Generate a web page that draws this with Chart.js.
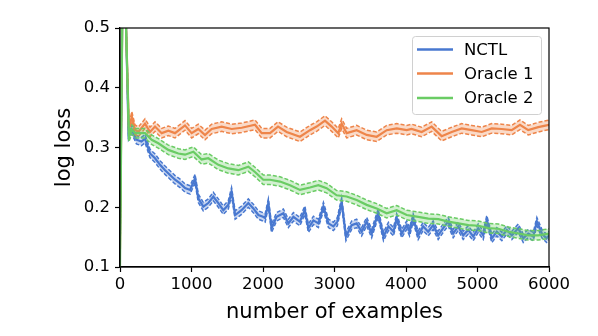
<!DOCTYPE html>
<html>
<head>
<meta charset="utf-8">
<script src="https://cdn.jsdelivr.net/npm/chart.js@4/dist/chart.umd.min.js"></script>
<style>
  html, body { margin: 0; padding: 0; background: #fff; }
</style>
</head>
<body>
<canvas id="lossChart" width="598" height="336"></canvas>
<script>
// values
const nctlX = [0, 40, 85, 120, 165, 230, 300, 350, 420, 490, 560, 630, 700, 770, 840, 910, 980, 1050, 1095, 1165,
  1235, 1305, 1375, 1445, 1515, 1560, 1610, 1700, 1795, 1865, 1935, 2000, 2030, 2075, 2120, 2190, 2285, 2355, 2425, 2515,
  2585, 2635, 2705, 2775, 2845, 2915, 2985, 3040, 3100, 3160, 3240, 3310, 3380, 3450, 3520, 3610, 3685, 3755, 3825, 3870,
  3940, 4010, 4050, 4100, 4170, 4240, 4310, 4380, 4450, 4520, 4590, 4660, 4730, 4800, 4870, 4940, 5010, 5080, 5130, 5200,
  5270, 5340, 5410, 5480, 5570, 5640, 5710, 5780, 5830, 5900, 5965, 6000];
const nctlY = [0.155, 0.62, 0.5, 0.32, 0.33, 0.313, 0.31, 0.315, 0.29, 0.282, 0.271, 0.262, 0.254, 0.246, 0.24, 0.232, 0.229, 0.248, 0.215, 0.201,
  0.207, 0.218, 0.207, 0.195, 0.204, 0.226, 0.187, 0.195, 0.207, 0.198, 0.187, 0.184, 0.182, 0.207, 0.165, 0.184, 0.19, 0.173, 0.184, 0.176,
  0.195, 0.165, 0.178, 0.173, 0.201, 0.173, 0.168, 0.176, 0.209, 0.151, 0.17, 0.173, 0.159, 0.176, 0.156, 0.19, 0.151, 0.168, 0.159, 0.182,
  0.156, 0.17, 0.159, 0.182, 0.153, 0.168, 0.159, 0.17, 0.153, 0.165, 0.176, 0.156, 0.168, 0.153, 0.162, 0.151, 0.165, 0.153, 0.179, 0.148,
  0.159, 0.151, 0.162, 0.153, 0.165, 0.148, 0.156, 0.151, 0.176, 0.156, 0.148, 0.153];

const oracle1X = [0, 40, 85, 125, 165, 210, 256, 350, 420, 490, 583, 676, 769, 909, 1002, 1095, 1189, 1282, 1422, 1562,
  1702, 1888, 1982, 2098, 2210, 2331, 2517, 2657, 2750, 2867, 2960, 3053, 3100, 3170, 3310, 3450, 3590, 3730, 3870, 4010,
  4079, 4219, 4359, 4499, 4639, 4779, 4919, 5059, 5199, 5338, 5478, 5594, 5710, 5850, 6000];
const oracle1Y = [0.13, 0.62, 0.5, 0.33, 0.352, 0.33, 0.326, 0.34, 0.326, 0.335, 0.324, 0.328, 0.324, 0.337, 0.324, 0.331, 0.321, 0.331, 0.335, 0.331,
  0.333, 0.338, 0.324, 0.324, 0.335, 0.326, 0.318, 0.329, 0.335, 0.345, 0.335, 0.324, 0.34, 0.324, 0.329, 0.321, 0.318, 0.329, 0.332, 0.329,
  0.331, 0.326, 0.335, 0.319, 0.326, 0.332, 0.329, 0.326, 0.332, 0.331, 0.329, 0.338, 0.329, 0.334, 0.338];

const oracle2X = [0, 40, 85, 125, 165, 210, 350, 443, 536, 676, 816, 909, 1026, 1142, 1235, 1375, 1515, 1655, 1795, 1888,
  2004, 2098, 2238, 2378, 2517, 2657, 2774, 2890, 3030, 3170, 3310, 3450, 3590, 3730, 3870, 4010, 4172, 4312, 4452, 4592,
  4732, 4872, 5012, 5152, 5292, 5432, 5571, 5710, 5850, 6000];
const oracle2Y = [0.1, 0.62, 0.5, 0.318, 0.33, 0.324, 0.324, 0.313, 0.307, 0.296, 0.29, 0.288, 0.293, 0.28, 0.282, 0.271, 0.265, 0.262, 0.268, 0.259,
  0.246, 0.246, 0.243, 0.237, 0.229, 0.233, 0.237, 0.232, 0.22, 0.218, 0.212, 0.204, 0.198, 0.19, 0.195, 0.187, 0.184, 0.181, 0.18, 0.176,
  0.173, 0.17, 0.169, 0.165, 0.164, 0.159, 0.156, 0.153, 0.153, 0.156];

// spread of each band
const nctlStd = 0.007;
const oracle1Std = 0.008;
const oracle2Std = 0.008;

const seriesNames = ['NCTL', 'Oracle 1', 'Oracle 2'];
const xTicks = [0, 1000, 2000, 3000, 4000, 5000, 6000];
const yTicks = [0.1, 0.2, 0.3, 0.4, 0.5];

const colors = ['#4878d0', '#ee854a', '#6acc64'];
const fills = ['rgba(72,120,208,0.3)', 'rgba(238,133,74,0.3)', 'rgba(106,204,100,0.3)'];

function pts(xs, ys, d) {
  return xs.map((x, i) => ({ x: x, y: ys[i] + d }));
}

const series = [
  [nctlX, nctlY, nctlStd],
  [oracle1X, oracle1Y, oracle1Std],
  [oracle2X, oracle2Y, oracle2Std]
];

// green on top, blue at the back
const drawOrder = [8, 5, 2];

const datasets = [];
series.forEach((s, k) => {
  const base = datasets.length;
  datasets.push({
    label: seriesNames[k] + ' upper',
    data: pts(s[0], s[1], s[2]),
    borderColor: colors[k], borderWidth: 1.5, borderDash: [4, 2],
    pointRadius: 0, fill: false, order: drawOrder[k] + 1
  });
  datasets.push({
    label: seriesNames[k] + ' lower',
    data: pts(s[0], s[1], -s[2]),
    borderColor: colors[k], borderWidth: 1.5, borderDash: [4, 2],
    backgroundColor: fills[k],
    pointRadius: 0, fill: base, order: drawOrder[k] + 1
  });
  datasets.push({
    label: seriesNames[k],
    data: pts(s[0], s[1], 0),
    borderColor: colors[k], borderWidth: 2.2,
    pointRadius: 0, fill: false, order: drawOrder[k]
  });
});

const font = 'DejaVu Sans';

const framePlugin = {
  id: 'frame',
  afterDatasetsDraw(chart) {
    const a = chart.chartArea;
    const ctx = chart.ctx;
    ctx.save();
    ctx.strokeStyle = '#000';
    ctx.lineWidth = 1.2;
    ctx.strokeRect(a.left, a.top, a.right - a.left, a.bottom - a.top);
    ctx.restore();
  }
};

const legendPlugin = {
  id: 'boxLegend',
  afterDraw(chart) {
    const ctx = chart.ctx;
    ctx.save();
    ctx.beginPath();
    ctx.roundRect(412.5, 36.5, 129, 78, 3);
    ctx.fillStyle = 'rgba(255,255,255,0.8)';
    ctx.fill();
    ctx.strokeStyle = '#d0d0d0';
    ctx.lineWidth = 1;
    ctx.stroke();
    const rows = [49.5, 73.5, 98];
    ctx.font = '16.5px "' + font + '"';
    ctx.textBaseline = 'middle';
    ctx.fillStyle = '#000';
    seriesNames.forEach((n, i) => {
      ctx.strokeStyle = colors[i];
      ctx.lineWidth = 2.5;
      ctx.beginPath();
      ctx.moveTo(417, rows[i]);
      ctx.lineTo(453, rows[i]);
      ctx.stroke();
      ctx.fillText(n, 464, rows[i] + 1);
    });
    ctx.restore();
  }
};

new Chart(document.getElementById('lossChart'), {
  type: 'line',
  data: { datasets: datasets },
  options: {
    responsive: false,
    animation: false,
    devicePixelRatio: 1,
    layout: { padding: { top: 28, right: 49, left: 0, bottom: 0 } },
    plugins: {
      legend: { display: false },
      tooltip: { enabled: false }
    },
    elements: { line: { tension: 0 } },
    scales: {
      x: {
        type: 'linear', min: 0, max: 6000,
        afterBuildTicks: (s) => { s.ticks = xTicks.map(v => ({ value: v })); },
        afterFit: (s) => { s.height = 69; },
        ticks: { color: '#000', font: { family: font, size: 16.5 }, padding: 3, maxRotation: 0,
          callback: (v) => String(v) },
        grid: { drawOnChartArea: false, tickLength: 5, tickColor: '#000', tickWidth: 1.2 },
        border: { color: '#000', width: 1.2 },
        title: { display: true, text: 'number of examples', color: '#000',
          font: { family: font, size: 21 }, padding: { top: 0, bottom: 11 } }
      },
      y: {
        min: 0.1, max: 0.5,
        afterBuildTicks: (s) => { s.ticks = yTicks.map(v => ({ value: v })); },
        afterFit: (s) => { s.width = 120; },
        ticks: { color: '#000', font: { family: font, size: 16.5 }, padding: 5,
          callback: (v) => v.toFixed(1) },
        grid: { drawOnChartArea: false, tickLength: 5, tickColor: '#000', tickWidth: 1.2 },
        border: { color: '#000', width: 1.2 },
        title: { display: true, text: 'log loss', color: '#000',
          font: { family: font, size: 21 }, padding: { top: 52, bottom: 0 } }
      }
    }
  },
  plugins: [framePlugin, legendPlugin]
});
</script>
</body>
</html>
